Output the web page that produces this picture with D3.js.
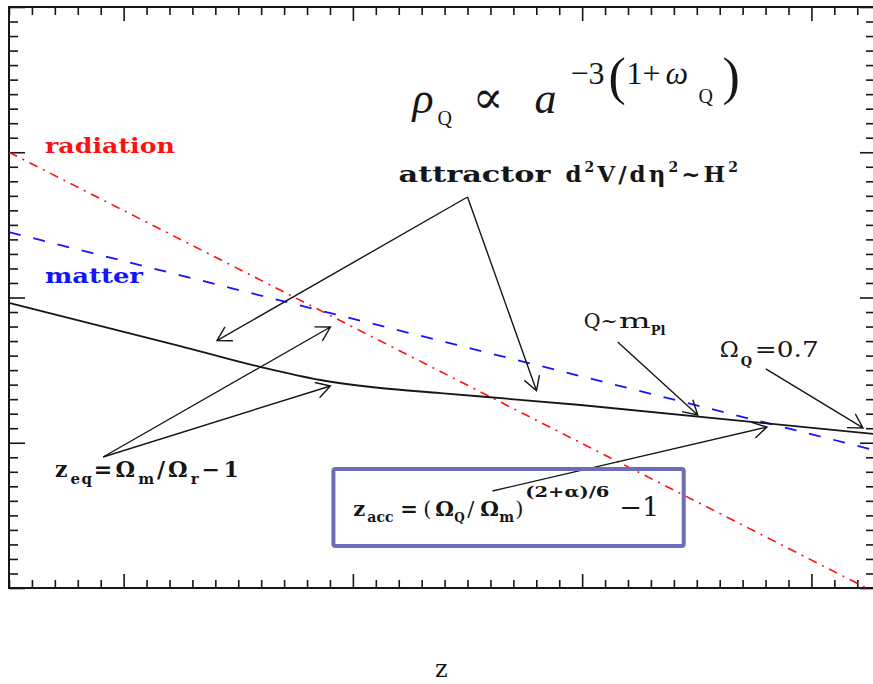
<!DOCTYPE html>
<html>
<head>
<meta charset="utf-8">
<script src="https://cdn.jsdelivr.net/npm/d3@7"></script>
<style>
  html, body { margin: 0; padding: 0; background: #fff; }
  svg { display: block; }
</style>
</head>
<body>
<script>
// ---- axes: log10 decades, no numeric labels ----
const xDomain = [-0.5, 3.273];
const yDomain = [0, 4];
const xMajorTicks = [0, 1, 2, 3];
const yMajorTicks = [0, 1, 2, 3, 4];
const minorPerDecade = 10;
const xLabel = "z";

// ---- energy-density tracks (log a, log rho) ----
const radiationX = [-0.5, 3.24];
const radiationY = [3.0, 0.0];
const matterX = [-0.5, 3.273];
const matterY = [2.45, 0.95];
const quintX = [-0.496, 0.247, 0.596, 0.858, 1.120, 1.382, 1.993, 3.273];
const quintY = [1.962, 1.666, 1.522, 1.432, 1.377, 1.342, 1.260, 1.060];

// ---- annotation arrows: tail -> head, in data units ----
const arrowFromX = [1.5, 1.5, -0.0895, -0.0895, 2.155, 2.801, 1.609];
const arrowFromY = [2.692, 2.692, 0.902, 0.902, 1.694, 1.508, 0.668];
const arrowToX   = [0.407, 1.801, 0.902, 0.902, 2.504, 3.225, 2.806];
const arrowToY   = [1.703, 1.358, 1.797, 1.391, 1.191, 1.102, 1.108];

// ---- z_acc box corners (data units) ----
const boxX = [0.915, 2.443];
const boxY = [0.819, 0.289];

const W = 873, H = 684;
const frame = { left: 9, right: 874, top: 7, bottom: 588 };

const svg = d3.select("body").append("svg")
  .attr("width", W).attr("height", H)
  .attr("viewBox", `0 0 ${W} ${H}`);

const x = d3.scaleLinear().domain(xDomain).range([frame.left, frame.right]);
const y = d3.scaleLinear().domain(yDomain).range([frame.bottom, frame.top]);

const ink = "#161616";

// minor ticks: every tenth of a decade inside the domain
function minorTicks(domain) {
  const out = [];
  const lo = Math.ceil(domain[0] * minorPerDecade), hi = Math.floor(domain[1] * minorPerDecade);
  for (let i = lo; i <= hi; i++) if (i % minorPerDecade !== 0) out.push(i / minorPerDecade);
  return out;
}
const xMinor = minorTicks(xDomain);
const yMinor = minorTicks(yDomain);

const axesG = svg.append("g").attr("class", "axes");

function drawAxis(axisFn, scale, values, size, transform) {
  const g = axesG.append("g").attr("transform", transform)
    .call(axisFn(scale).tickValues(values).tickSize(size).tickFormat(""));
  g.select(".domain").remove();
  g.selectAll(".tick line").attr("stroke", ink).attr("stroke-width", 1.6);
  return g;
}
// bottom & top (ticks pointing inward)
drawAxis(d3.axisTop, x, xMinor, 8, `translate(0,${frame.bottom})`);
drawAxis(d3.axisTop, x, xMajorTicks, 14, `translate(0,${frame.bottom})`);
drawAxis(d3.axisBottom, x, xMinor, 8, `translate(0,${frame.top})`);
drawAxis(d3.axisBottom, x, xMajorTicks, 14, `translate(0,${frame.top})`);
// left & right
drawAxis(d3.axisRight, y, yMinor, 9, `translate(${frame.left},0)`);
drawAxis(d3.axisRight, y, yMajorTicks, 16, `translate(${frame.left},0)`);
drawAxis(d3.axisLeft, y, yMinor, 8, `translate(${frame.right},0)`);
drawAxis(d3.axisLeft, y, yMajorTicks, 14, `translate(${frame.right},0)`);

axesG.append("rect")
  .attr("x", frame.left).attr("y", frame.top)
  .attr("width", frame.right - frame.left).attr("height", frame.bottom - frame.top)
  .attr("fill", "none").attr("stroke", ink).attr("stroke-width", 2);

// clip curves to the frame
svg.append("clipPath").attr("id", "plotClip")
  .append("rect")
  .attr("x", frame.left).attr("y", frame.top)
  .attr("width", frame.right - frame.left).attr("height", frame.bottom - frame.top);

const curves = svg.append("g").attr("clip-path", "url(#plotClip)");
const zipXY = (xs, ys) => xs.map((v, i) => [v, ys[i]]);
const line = d3.line().x(d => x(d[0])).y(d => y(d[1]));
const smooth = d3.line().x(d => x(d[0])).y(d => y(d[1])).curve(d3.curveMonotoneX);

curves.append("path").datum(zipXY(radiationX, radiationY))
  .attr("d", line).attr("fill", "none")
  .attr("stroke", "#ff1010").attr("stroke-width", 1.6)
  .attr("stroke-dasharray", "9,6,2,6");

curves.append("path").datum(zipXY(matterX, matterY))
  .attr("d", line).attr("fill", "none")
  .attr("stroke", "#1414ff").attr("stroke-width", 1.8)
  .attr("stroke-dasharray", "12,13");

curves.append("path").datum(zipXY(quintX, quintY))
  .attr("d", smooth).attr("fill", "none")
  .attr("stroke", ink).attr("stroke-width", 1.8);

// ---- arrows with open barbs ----
const arrowsG = svg.append("g").attr("class", "arrows");
const barbLen = 16, barbAng = 30 * Math.PI / 180;
arrowFromX.forEach((_, i) => {
  const x0 = x(arrowFromX[i]), y0 = y(arrowFromY[i]);
  const x1 = x(arrowToX[i]), y1 = y(arrowToY[i]);
  const back = Math.atan2(y0 - y1, x0 - x1);
  const p = d3.path();
  p.moveTo(x0, y0); p.lineTo(x1, y1);
  p.moveTo(x1 + barbLen * Math.cos(back + barbAng), y1 + barbLen * Math.sin(back + barbAng));
  p.lineTo(x1, y1);
  p.lineTo(x1 + barbLen * Math.cos(back - barbAng), y1 + barbLen * Math.sin(back - barbAng));
  arrowsG.append("path").attr("d", p.toString())
    .attr("fill", "none").attr("stroke", ink).attr("stroke-width", 1.4)
    .attr("stroke-linejoin", "miter");
});

// z_acc frame
svg.append("rect")
  .attr("x", x(boxX[0])).attr("y", y(boxY[0]))
  .attr("width", x(boxX[1]) - x(boxX[0])).attr("height", y(boxY[1]) - y(boxY[0]))
  .attr("rx", 2).attr("fill", "none")
  .attr("stroke", "#6d6db8").attr("stroke-width", 4);

// ---- rich text helper: segments flow on, or jump to an offset (dx) from the anchor ----
const serif = "'DejaVu Serif', 'Liberation Serif', serif";
const times = "'Liberation Serif', 'DejaVu Serif', serif";
function rich(px, py, segs, base) {
  const t = svg.append("text")
    .attr("x", px).attr("y", py)
    .attr("font-family", base.family)
    .attr("font-weight", base.weight || "normal")
    .attr("fill", base.color || ink)
    .attr("font-size", base.size);
  segs.forEach(s => {
    const ts = t.append("tspan").text(s.t)
      .attr("y", py + (s.dy || 0))
      .attr("font-size", s.size || base.size);
    if (s.dx !== undefined) ts.attr("x", px + s.dx);
    if (s.italic) ts.attr("font-style", "italic");
    if (s.w) ts.attr("font-weight", s.w);
    if (s.ls) ts.attr("letter-spacing", s.ls);
    if (s.len) ts.attr("textLength", s.len).attr("lengthAdjust", "spacingAndGlyphs");
  });
  return t;
}

// curve names
rich(x(-0.343), y(2.995), [{ t: "radiation", len: 130 }],
  { family: serif, weight: "bold", size: 20, color: "#ff1010" });
rich(x(-0.343), y(2.100), [{ t: "matter", len: 98 }],
  { family: serif, weight: "bold", size: 21, color: "#1414ff" });

// scaling law
rich(x(1.260), y(3.270), [
  { t: "ρ", dx: 0, italic: true },
  { t: "Q", dx: 25, dy: 12, size: 20 },
  { t: "∝", dx: 60, size: 46 },
  { t: "a", dx: 122, italic: true },
  { t: "−3", dx: 158, dy: -29, size: 32 },
  { t: "(", dx: 196, dy: -19, size: 52 },
  { t: "1+", dx: 214, dy: -29, size: 32 },
  { t: "ω", dx: 253, dy: -29, size: 32, italic: true },
  { t: "Q", dx: 286, dy: -10, size: 20 },
  { t: ")", dx: 310, dy: -19, size: 52 }
], { family: times, size: 44 });

// attractor label
rich(x(1.199), y(2.795), [
  { t: "attractor", len: 152, size: 22 },
  { t: "d", dx: 167, ls: 3 },
  { t: "2", dy: -10, size: 14, ls: 3 },
  { t: "V/d", ls: 3 },
  { t: "η", ls: 3 },
  { t: "2", dy: -10, size: 14, ls: 3 },
  { t: "~H", ls: 3 },
  { t: "2", dy: -10, size: 14 }
], { family: serif, weight: "bold", size: 23 });

// Q ~ m_Pl
rich(x(2.007), y(1.790), [
  { t: "Q~", len: 34 },
  { t: "m", dx: 35, len: 32 },
  { t: "Pl", dx: 67, dy: 7, size: 13, w: "bold" }
], { family: serif, size: 21 });

// Omega_Q = 0.7
rich(x(2.600), y(1.590), [
  { t: "Ω" },
  { t: "Q", dx: 21, dy: 9, size: 13, w: "bold" },
  { t: "=0.7", dx: 35, len: 64 }
], { family: serif, size: 23 });

// matter-radiation equality
rich(x(-0.299), y(0.764), [
  { t: "z", ls: 3 },
  { t: "eq", dy: 7, size: 15, ls: 1.5 },
  { t: "=", ls: 3.5 },
  { t: "Ω", ls: 3 },
  { t: "m", dy: 7, size: 15, ls: 3 },
  { t: "/", ls: 3 },
  { t: "Ω", ls: 3 },
  { t: "r", dy: 7, size: 15, ls: 3 },
  { t: "−1", ls: 3.5 }
], { family: serif, weight: "bold", size: 22 });

// onset of acceleration
rich(x(1.002), y(0.496), [
  { t: "z" },
  { t: "acc", dx: 14, dy: 6, size: 14 },
  { t: "=", dx: 47 },
  { t: "(", dx: 70, w: "normal" },
  { t: "Ω", dx: 82 },
  { t: "Q", dx: 101, dy: 6, size: 12 },
  { t: "/", dx: 114, w: "normal" },
  { t: "Ω", dx: 127 },
  { t: "m", dx: 146, dy: 6, size: 14 },
  { t: ")", dx: 162, w: "normal" },
  { t: "(2+α)/6", dx: 172, dy: -19, size: 15, len: 84 },
  { t: "−1", dx: 266, w: "normal", size: 26, len: 40 }
], { family: serif, weight: "bold", size: 21 });

// x-axis title
svg.append("text")
  .attr("x", x(1.386)).attr("y", 677)
  .attr("text-anchor", "middle")
  .attr("font-family", serif)
  .attr("font-size", 24)
  .attr("fill", ink)
  .text(xLabel);
</script>
</body>
</html>
